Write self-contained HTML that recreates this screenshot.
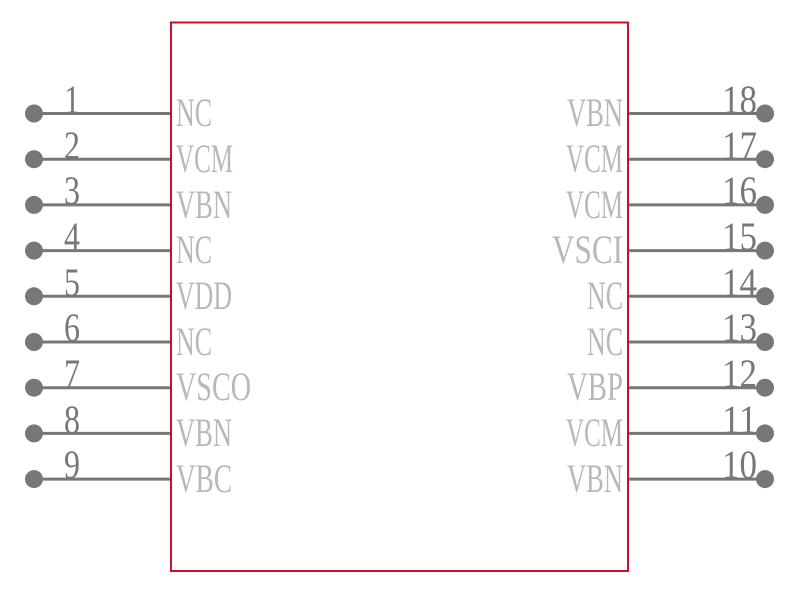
<!DOCTYPE html>
<html><head><meta charset="utf-8"><style>
html,body{margin:0;padding:0;background:#fff;}
svg{display:block;}
.lbl{font-family:"Liberation Serif",serif;font-size:40px;fill:#b8b8b8;}
.num{font-family:"Liberation Serif",serif;font-size:40px;fill:#777;}
</style></head><body>
<svg width="800" height="594" viewBox="0 0 800 594" xmlns="http://www.w3.org/2000/svg">
<rect x="171" y="22.5" width="457" height="548.5" fill="none" stroke="#c8102e" stroke-width="2"/>
<g stroke="#777" stroke-width="3">
<line x1="34" y1="113.5" x2="170" y2="113.5"/><line x1="34" y1="159.2" x2="170" y2="159.2"/><line x1="34" y1="204.9" x2="170" y2="204.9"/><line x1="34" y1="250.6" x2="170" y2="250.6"/><line x1="34" y1="296.3" x2="170" y2="296.3"/><line x1="34" y1="342" x2="170" y2="342"/><line x1="34" y1="387.7" x2="170" y2="387.7"/><line x1="34" y1="433.4" x2="170" y2="433.4"/><line x1="34" y1="479.1" x2="170" y2="479.1"/>
<line x1="629" y1="113.5" x2="765" y2="113.5"/><line x1="629" y1="159.2" x2="765" y2="159.2"/><line x1="629" y1="204.9" x2="765" y2="204.9"/><line x1="629" y1="250.6" x2="765" y2="250.6"/><line x1="629" y1="296.3" x2="765" y2="296.3"/><line x1="629" y1="342" x2="765" y2="342"/><line x1="629" y1="387.7" x2="765" y2="387.7"/><line x1="629" y1="433.4" x2="765" y2="433.4"/><line x1="629" y1="479.1" x2="765" y2="479.1"/>
</g>
<g fill="#777">
<circle cx="34" cy="113.5" r="9"/><circle cx="34" cy="159.2" r="9"/><circle cx="34" cy="204.9" r="9"/><circle cx="34" cy="250.6" r="9"/><circle cx="34" cy="296.3" r="9"/><circle cx="34" cy="342" r="9"/><circle cx="34" cy="387.7" r="9"/><circle cx="34" cy="433.4" r="9"/><circle cx="34" cy="479.1" r="9"/>
<circle cx="765" cy="113.5" r="9"/><circle cx="765" cy="159.2" r="9"/><circle cx="765" cy="204.9" r="9"/><circle cx="765" cy="250.6" r="9"/><circle cx="765" cy="296.3" r="9"/><circle cx="765" cy="342" r="9"/><circle cx="765" cy="387.7" r="9"/><circle cx="765" cy="433.4" r="9"/><circle cx="765" cy="479.1" r="9"/>
</g>
<g class="lbl">
<text x="176" y="126" textLength="36" lengthAdjust="spacingAndGlyphs">NC</text>
<text x="176" y="172" textLength="57" lengthAdjust="spacingAndGlyphs">VCM</text>
<text x="176" y="218" textLength="56" lengthAdjust="spacingAndGlyphs">VBN</text>
<text x="176" y="263" textLength="36" lengthAdjust="spacingAndGlyphs">NC</text>
<text x="176" y="309" textLength="56" lengthAdjust="spacingAndGlyphs">VDD</text>
<text x="176" y="355" textLength="36" lengthAdjust="spacingAndGlyphs">NC</text>
<text x="176" y="400" textLength="75" lengthAdjust="spacingAndGlyphs">VSCO</text>
<text x="176" y="446" textLength="56" lengthAdjust="spacingAndGlyphs">VBN</text>
<text x="176" y="492" textLength="56" lengthAdjust="spacingAndGlyphs">VBC</text>
<text x="623" y="126" text-anchor="end" textLength="56" lengthAdjust="spacingAndGlyphs">VBN</text>
<text x="623" y="172" text-anchor="end" textLength="57" lengthAdjust="spacingAndGlyphs">VCM</text>
<text x="623" y="218" text-anchor="end" textLength="57" lengthAdjust="spacingAndGlyphs">VCM</text>
<text x="623" y="263" text-anchor="end" textLength="71" lengthAdjust="spacingAndGlyphs">VSCI</text>
<text x="623" y="309" text-anchor="end" textLength="36" lengthAdjust="spacingAndGlyphs">NC</text>
<text x="623" y="355" text-anchor="end" textLength="36" lengthAdjust="spacingAndGlyphs">NC</text>
<text x="623" y="400" text-anchor="end" textLength="56" lengthAdjust="spacingAndGlyphs">VBP</text>
<text x="623" y="446" text-anchor="end" textLength="57" lengthAdjust="spacingAndGlyphs">VCM</text>
<text x="623" y="492" text-anchor="end" textLength="56" lengthAdjust="spacingAndGlyphs">VBN</text>
</g>
<g class="num">
<text x="72" y="113" text-anchor="middle" textLength="16" lengthAdjust="spacingAndGlyphs">1</text>
<text x="72" y="159" text-anchor="middle" textLength="16" lengthAdjust="spacingAndGlyphs">2</text>
<text x="72" y="204" text-anchor="middle" textLength="16" lengthAdjust="spacingAndGlyphs">3</text>
<text x="72" y="250" text-anchor="middle" textLength="16" lengthAdjust="spacingAndGlyphs">4</text>
<text x="72" y="296" text-anchor="middle" textLength="16" lengthAdjust="spacingAndGlyphs">5</text>
<text x="72" y="341" text-anchor="middle" textLength="16" lengthAdjust="spacingAndGlyphs">6</text>
<text x="72" y="387" text-anchor="middle" textLength="16" lengthAdjust="spacingAndGlyphs">7</text>
<text x="72" y="433" text-anchor="middle" textLength="16" lengthAdjust="spacingAndGlyphs">8</text>
<text x="72" y="478" text-anchor="middle" textLength="16" lengthAdjust="spacingAndGlyphs">9</text>
<text x="757" y="113" text-anchor="end" textLength="35" lengthAdjust="spacingAndGlyphs">18</text>
<text x="757" y="159" text-anchor="end" textLength="35" lengthAdjust="spacingAndGlyphs">17</text>
<text x="757" y="204" text-anchor="end" textLength="35" lengthAdjust="spacingAndGlyphs">16</text>
<text x="757" y="250" text-anchor="end" textLength="35" lengthAdjust="spacingAndGlyphs">15</text>
<text x="757" y="296" text-anchor="end" textLength="35" lengthAdjust="spacingAndGlyphs">14</text>
<text x="757" y="341" text-anchor="end" textLength="35" lengthAdjust="spacingAndGlyphs">13</text>
<text x="757" y="387" text-anchor="end" textLength="35" lengthAdjust="spacingAndGlyphs">12</text>
<text x="757" y="433" text-anchor="end" textLength="35" lengthAdjust="spacingAndGlyphs">11</text>
<text x="757" y="478" text-anchor="end" textLength="35" lengthAdjust="spacingAndGlyphs">10</text>
</g>
</svg>
</body></html>
